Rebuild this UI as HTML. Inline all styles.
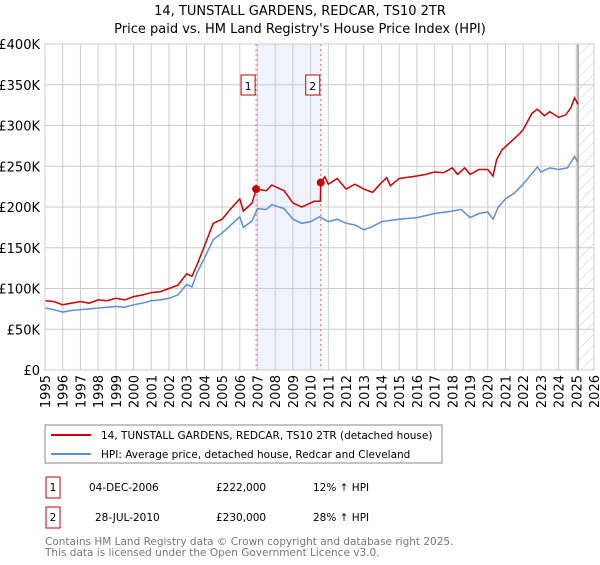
<!DOCTYPE html>
<html><head><meta charset="utf-8"><style>
body{margin:0;background:#fff;font-family:"Liberation Sans","DejaVu Sans",sans-serif}
svg text{font-family:"DejaVu Sans","Liberation Sans",sans-serif}
</style></head><body>
<svg id="c" width="600" height="560" xmlns="http://www.w3.org/2000/svg">
<defs><pattern id="hatch" width="8" height="8" patternUnits="userSpaceOnUse" patternTransform="rotate(45)"><line x1="0" y1="0" x2="0" y2="8" stroke="#ccc" stroke-width="1"/></pattern></defs>
<text x="300" y="15" text-anchor="middle" font-size="13">14, TUNSTALL GARDENS, REDCAR, TS10 2TR</text>
<text x="300" y="33" text-anchor="middle" font-size="13">Price paid vs. HM Land Registry's House Price Index (HPI)</text>
<g id="plot"></g>
<rect x="45" y="425" width="397" height="38" fill="#fff" stroke="#888"/>
<line x1="51" y1="435" x2="91" y2="435" stroke="#cc0000" stroke-width="2"/>
<text x="101" y="439" font-size="10.5">14, TUNSTALL GARDENS, REDCAR, TS10 2TR (detached house)</text>
<line x1="51" y1="454" x2="91" y2="454" stroke="#5b8ed6" stroke-width="2"/>
<text x="101" y="458" font-size="10.5">HPI: Average price, detached house, Redcar and Cleveland</text>
<g>
<rect x="46" y="477" width="14" height="21" fill="#fff" stroke="#cc0000"/>
<text x="53" y="491" font-size="10.5" text-anchor="middle">1</text>
<text x="89" y="491" font-size="10.5">04-DEC-2006</text>
<text x="216" y="491" font-size="10.5">£222,000</text>
<text x="313" y="491" font-size="10.5">12% ↑ HPI</text></g>
<g>
<rect x="46" y="507" width="14" height="21" fill="#fff" stroke="#cc0000"/>
<text x="53" y="521" font-size="10.5" text-anchor="middle">2</text>
<text x="95" y="521" font-size="10.5">28-JUL-2010</text>
<text x="216" y="521" font-size="10.5">£230,000</text>
<text x="313" y="521" font-size="10.5">28% ↑ HPI</text></g>
<text x="45" y="545" font-size="10.5" fill="#777">Contains HM Land Registry data © Crown copyright and database right 2025.</text>
<text x="45" y="556" font-size="10.5" fill="#777">This data is licensed under the Open Government Licence v3.0.</text>
</svg>
<script>
const years=[1995,1996,1997,1998,1999,2000,2001,2002,2003,2004,2005,2006,2007,2008,2009,2010,2011,2012,2013,2014,2015,2016,2017,2018,2019,2020,2021,2022,2023,2024,2025,2026];
const yTicks=[0,50,100,150,200,250,300,350,400];
const yTickLabels=["£0","£50K","£100K","£150K","£200K","£250K","£300K","£350K","£400K"];
const redT=[1995,1995.5,1996,1996.5,1997,1997.5,1998,1998.5,1999,1999.5,2000,2000.5,2001,2001.5,2002,2002.5,2003,2003.3,2003.6,2004,2004.5,2005,2005.5,2006,2006.2,2006.7,2006.92,2007.5,2007.8,2008.5,2009,2009.5,2010.2,2010.55,2010.57,2010.8,2011,2011.5,2012,2012.5,2013,2013.5,2014,2014.3,2014.5,2015,2016,2016.5,2017,2017.5,2018,2018.3,2018.7,2019,2019.5,2020,2020.3,2020.5,2020.8,2021.3,2021.8,2022,2022.5,2022.8,2023.2,2023.5,2024,2024.4,2024.7,2024.9,2025.1];
const redV=[85,84,80,82,84,82,86,85,88,86,90,92,95,96,100,104,118,115,130,152,180,185,198,210,195,205,222,220,227,220,205,200,207,207,230,237,228,235,222,228,222,218,230,236,226,235,238,240,243,242,248,240,248,240,246,246,238,258,270,280,290,295,315,320,312,317,310,313,322,334,326];
const hpiT=[1995,1995.5,1996,1996.5,1997,1997.5,1998,1998.5,1999,1999.5,2000,2000.5,2001,2001.5,2002,2002.5,2003,2003.3,2003.6,2004,2004.5,2005,2005.5,2006,2006.2,2006.7,2007,2007.5,2007.8,2008.5,2009,2009.5,2010,2010.5,2011,2011.5,2012,2012.5,2013,2013.5,2014,2015,2016,2017,2018,2018.5,2019,2019.5,2020,2020.3,2020.6,2021,2021.5,2022,2022.8,2023,2023.5,2024,2024.5,2024.9,2025.1];
const hpiV=[76,74,71,73,74,75,76,77,78,77,80,82,85,86,88,92,105,102,120,137,160,168,178,188,175,183,198,197,203,198,185,180,182,188,182,185,180,178,172,176,182,185,187,192,195,197,187,192,194,185,200,210,217,228,249,243,248,246,248,262,255];
const sales=[[2006.92,222,"1"],[2010.57,230,"2"]];
const X0=45,X1=594,Y0=370,Y1=44;
const xs=t=>X0+(t-1995)/(2026-1995)*(X1-X0);
const ys=v=>Y0-v/400*(Y0-Y1);
const NS="http://www.w3.org/2000/svg",g=document.getElementById('plot');
function mk(tag,at){const e=document.createElementNS(NS,tag);for(const k in at)e.setAttribute(k,at[k]);g.appendChild(e);return e;}
let e;
e=mk('rect',{x:xs(sales[0][0]),y:Y1,width:xs(sales[1][0])-xs(sales[0][0]),height:Y0-Y1,fill:'#eef3fc'});


e=mk('rect',{x:xs(2025.1),y:Y1,width:X1-xs(2025.1),height:Y0-Y1,fill:'url(#hatch)'});


years.forEach(y=>{
 e=mk('line',{x1:xs(y),x2:xs(y),y1:Y1,y2:Y0,stroke:'#ccc','stroke-width':1});
 
 
 e=mk('text',{x:0,y:0,'font-size':13,'text-anchor':'end',transform:`translate(${xs(y)+5},${Y0+5}) rotate(-90)`});
 e.textContent=y;
 
 
});
yTicks.forEach((v,i)=>{
 e=mk('line',{x1:X0,x2:X1,y1:ys(v),y2:ys(v),stroke:'#ccc','stroke-width':1});
 
 
 e=mk('text',{x:40,y:ys(v)+5,'font-size':13,'text-anchor':'end'});
 e.textContent=yTickLabels[i];
 
 
});
e=mk('line',{x1:xs(2025.1),x2:xs(2025.1),y1:Y1,y2:Y0,stroke:'#999','stroke-width':1.5});


sales.forEach(s=>{
 e=mk('line',{x1:xs(s[0]),x2:xs(s[0]),y1:Y1,y2:Y0,stroke:'#e66','stroke-width':1,'stroke-dasharray':'2,3'});
 
 
});
e=mk('polyline',{points:hpiT.map((t,i)=>xs(t)+','+ys(hpiV[i])).join(' '),fill:'none',stroke:'#5b8ed6','stroke-width':1.5});


e=mk('polyline',{points:redT.map((t,i)=>xs(t)+','+ys(redV[i])).join(' '),fill:'none',stroke:'#cc0000','stroke-width':1.5});


sales.forEach(s=>{
 e=mk('circle',{cx:xs(s[0]),cy:ys(s[1]),r:4,fill:'#cc0000'});
 
 
 e=mk('rect',{x:xs(s[0])-15,y:75,width:14,height:20,fill:'#fff',stroke:'#cc0000'});
 
 
 e=mk('text',{x:xs(s[0])-8,y:90,'font-size':11,'text-anchor':'middle'});
 e.textContent=s[2];
 
 
});
e=mk('rect',{x:X0,y:Y1,width:X1-X0,height:Y0-Y1,fill:'none',stroke:'#ccc'});


</script>
</body></html>
